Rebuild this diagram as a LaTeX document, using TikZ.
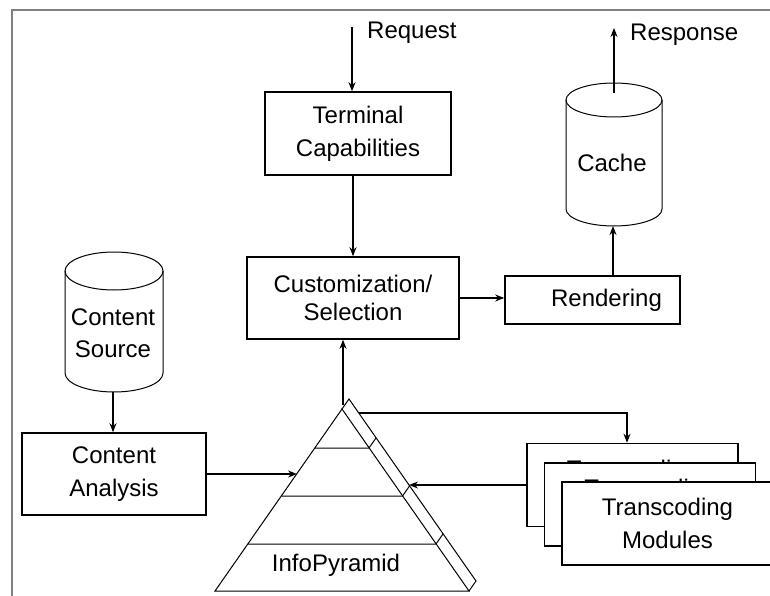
\documentclass[tikz,border=0pt]{standalone}
\usepackage{fontspec}
\setmainfont{Liberation Sans}
\usetikzlibrary{arrows.meta}
\begin{document}
\begin{tikzpicture}[x=1pt,y=-1pt,
  box/.style={draw,line width=1.6pt,align=center,inner sep=0pt,font=\fontsize{24}{33}\selectfont},
  tbox/.style={box,fill=white,minimum width=211pt,minimum height=83pt},
  lbl/.style={font=\fontsize{24}{32}\selectfont,inner sep=0pt,align=center},
  conn/.style={line width=1.3pt,-{Stealth[length=9pt,width=7pt]}},
  plain/.style={line width=1pt},
  frame/.style={draw=gray,line width=1.5pt}]
\useasboundingbox (0,0) rectangle (770,596);
% frame
\draw[frame] (12,596) -- (12,10) -- (770,10);

% boxes
\node[box,minimum width=186pt,minimum height=83pt] (term) at (358,133.5) {Terminal\\Capabilities};
\node[box,minimum width=212pt,minimum height=82pt,font=\fontsize{24}{28}\selectfont] (cust) at (353,298) {Customization/\\Selection};
\node[box,minimum width=175pt,minimum height=48pt] (rend) at (592.5,300) {\hspace*{28pt}Rendering};
\node[box,minimum width=184pt,minimum height=82pt] (ca) at (114,474) {Content\\Analysis};

% cylinders
\draw[plain] (566,100) -- (566,209) arc[start angle=180,end angle=0,x radius=48,y radius=17] -- (662,100);
\draw[plain] (614,100) ellipse[x radius=48,y radius=17];
\node[lbl] (cache) at (612,163) {Cache};
\draw[plain] (65,271) -- (65,373) arc[start angle=180,end angle=0,x radius=49,y radius=19] -- (163,271);
\draw[plain] (114,271) ellipse[x radius=49,y radius=19];
\node[lbl] (src) at (113,333) {Content\\Source};

\coordinate (cachebot) at (613,226);
\coordinate (cachetop) at (614,93);
\coordinate (resp) at (614,28);
\coordinate (srcbot) at (113,392);
\coordinate (rq) at (352,27);

% pyramid
\coordinate (A) at (342,409);
\coordinate (BL) at (215,591);
\coordinate (BR) at (469,591);
\coordinate (A2) at (349,399);
\coordinate (BR2) at (476,581);
\draw[plain] (BL) -- (A) -- (BR) -- cycle;
\draw[plain] (A) -- (A2) -- (BR2) -- (BR);
\draw[plain] (315,448) -- (369,448) -- ++(7,-10);
\draw[plain] (281.5,496) -- (402.5,496) -- ++(7,-10);
\draw[plain] (248,544) -- (436,544) -- ++(7,-10);
\node[lbl] (ip) at (336,565) {InfoPyramid};
\coordinate (papex) at (343,405);
\coordinate (ptop) at (359,413);
\coordinate (pl) at (297,474);
\coordinate (pr) at (409,485);

% labels
\node[lbl,anchor=west] (reqlbl) at (367,33) {Request};
\node[lbl,anchor=west] (resplbl) at (630,35) {Response};

% connectors
\draw[conn] (rq) -- (rq |- term.north);
\draw[conn] (cust.north |- term.south) -- (cust.north);
\draw[conn] (cust.east) -- (cust.east -| rend.west);
\draw[conn] (rend.north -| cachebot) -- (cachebot);
\draw[conn] (cachetop) -- (resp);
\draw[conn] (srcbot) -- (srcbot |- ca.north);
\draw[conn] (ca.east) -- (pl);
\draw[conn] (papex) -- (papex |- cust.south);

% transcoding modules
\node[tbox] (tc1) at (632.5,485) {Transcoding\\Modules};
\draw[conn] (ptop) -| ([xshift=-5.5pt]tc1.north);
\draw[conn] (tc1.west) -- (pr);
\node[tbox] (tc2) at (650,504.5) {Transcoding\\Modules};
\node[tbox] (tc3) at (667.5,523.5) {Transcoding\\Modules};
\end{tikzpicture}
\end{document}
